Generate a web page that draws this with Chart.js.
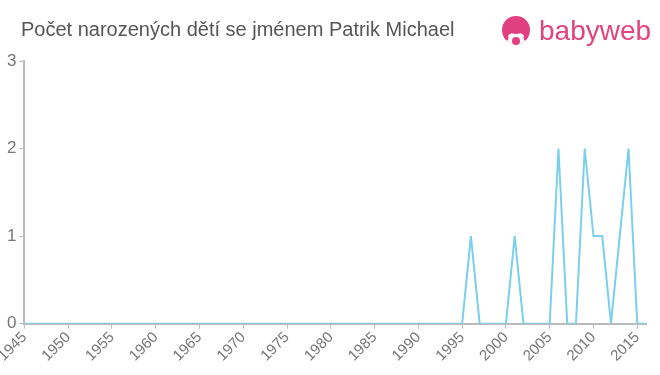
<!DOCTYPE html>
<html><head><meta charset="utf-8">
<script src="https://cdn.jsdelivr.net/npm/chart.js@4/dist/chart.umd.min.js"></script>
<style>
html,body{margin:0;padding:0;background:#fff;}
#wrap{position:relative;width:660px;height:375px;}
#title{position:absolute;left:21px;top:18px;font:20px "Liberation Sans",Arial,sans-serif;color:#555;white-space:nowrap;}
#logo{position:absolute;left:500px;top:14px;}
#logotext{position:absolute;left:539px;top:15px;font:28px "Liberation Sans",Arial,sans-serif;color:#e0457f;}
canvas{position:absolute;left:0;top:0;}
</style></head>
<body><div id="wrap">
<canvas id="c" width="660" height="375"></canvas>
<div id="title">Počet narozených dětí se jménem Patrik Michael</div>
<svg id="logo" width="32" height="32" viewBox="0 0 32 32">
<defs><clipPath id="cp"><circle cx="16" cy="16" r="14"/></clipPath></defs>
<circle cx="16" cy="16" r="14" fill="#e0407f"/>
<g clip-path="url(#cp)">
<ellipse cx="16" cy="27" rx="10" ry="9" fill="#fff"/>
<circle cx="5.5" cy="24" r="3" fill="#e0407f"/>
<circle cx="26.5" cy="24" r="3" fill="#e0407f"/>
<path d="M9 18 Q16 22 23 18 L23 15 L9 15 Z" fill="#e0407f"/>
</g>
<circle cx="16" cy="27" r="4" fill="#e0407f"/>
</svg>
<div id="logotext">babyweb</div>
</div>
<script>
const years = [];
for (let y = 1945; y <= 2016; y++) years.push(y);
const counts = [
0,0,0,0,0,0,0,0,0,0, // 1945-1954
0,0,0,0,0,0,0,0,0,0, // 1955-1964
0,0,0,0,0,0,0,0,0,0, // 1965-1974
0,0,0,0,0,0,0,0,0,0, // 1975-1984
0,0,0,0,0,0,0,0,0,0, // 1985-1994
0,1,0,0,0,0,1,0,0,0, // 1995-2004
0,2,0,0,2,1,1,0,1,2, // 2005-2014
0,0                  // 2015-2016
];
const xTicks = [1945,1950,1955,1960,1965,1970,1975,1980,1985,1990,1995,2000,2005,2010,2015];
const yTicks = [0,1,2,3];
const points = years.map((y,i)=>({x:y,y:counts[i]}));
new Chart(document.getElementById('c'), {
  type:'line',
  data:{datasets:[{data:points,borderColor:'#7ccfeb',borderWidth:2,pointRadius:0,fill:false,tension:0}]},
  options:{
    responsive:false,animation:false,
    layout:{padding:{left:4,right:14,top:61,bottom:10}},
    plugins:{legend:{display:false},tooltip:{enabled:false},title:{display:false}},
    scales:{
      x:{type:'linear',min:1945,max:2016,
        afterBuildTicks:ax=>{ax.ticks=xTicks.map(v=>({value:v}));},
        ticks:{autoSkip:false,maxRotation:45,minRotation:45,color:'#777',font:{family:'Liberation Sans, Arial',size:15},callback:v=>String(v),padding:0},
        grid:{display:true,drawOnChartArea:false,color:'#bbb',tickLength:5},
        border:{color:'#bbb',width:2}},
      y:{min:0,max:3,
        afterBuildTicks:ax=>{ax.ticks=yTicks.map(v=>({value:v}));},
        ticks:{color:'#777',font:{family:'Liberation Sans, Arial',size:17},padding:3},
        grid:{display:true,drawOnChartArea:false,color:'#bbb',tickLength:5},
        border:{color:'#bbb',width:2}}
    }
  }
});
</script>
</body></html>
